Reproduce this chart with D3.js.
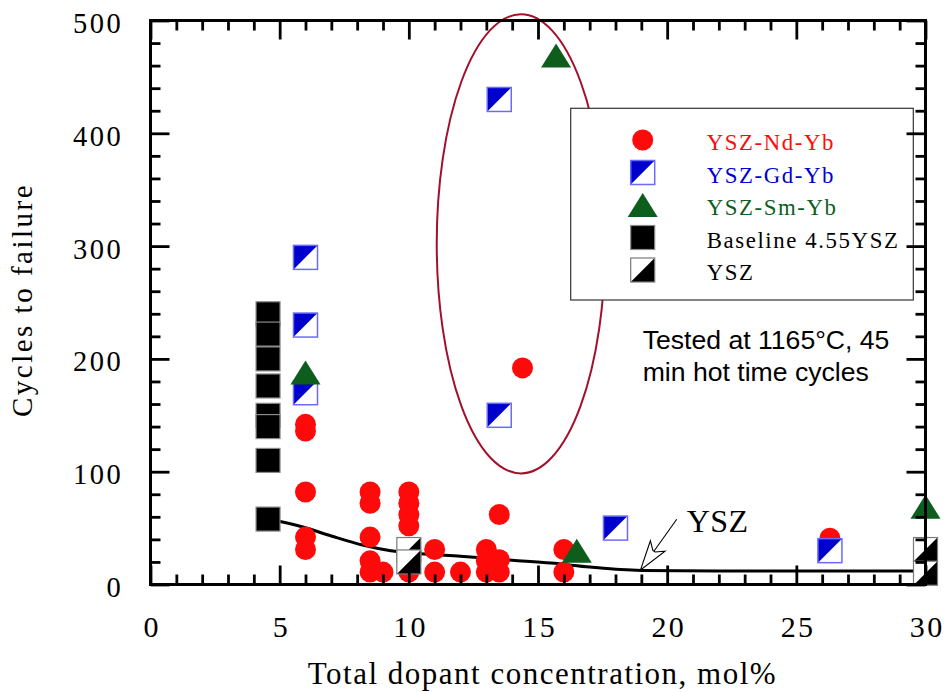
<!DOCTYPE html>
<html>
<head>
<meta charset="utf-8">
<script src="https://cdn.jsdelivr.net/npm/d3@7"></script>
<style>
  body { margin: 0; background: #fff; }
  svg { display: block; }
</style>
</head>
<body>
<svg id="chart" width="946" height="692"></svg>
<script>
// Cycles to failure vs. total dopant concentration (1165 °C, 45 min hot time)

// YSZ-Nd-Yb
const ndYbX = [6, 6, 6, 6, 6, 8.5, 8.5, 8.5, 8.5, 8.5, 9, 10, 10, 10, 10, 10, 11, 11, 12, 13, 13, 13, 13.5, 13.5, 13.5, 14.4, 16, 16, 26.3];
const ndYbY = [142, 136, 82, 42, 31, 82, 72, 42, 21, 11, 11, 82, 72, 62, 52, 11, 31, 11, 11, 31, 21, 11, 62, 22, 11, 192, 31, 11, 41];
// YSZ-Gd-Yb
const gdYbX = [6, 6, 6, 13.5, 13.5, 18, 26.3];
const gdYbY = [290, 230, 170, 430, 150, 50, 30];
// YSZ-Sm-Yb
const smYbX = [6, 15.7, 16.5, 30];
const smYbY = [188, 469, 30, 69];
// Baseline 4.55YSZ
const baseX = [4.55, 4.55, 4.55, 4.55, 4.55, 4.55, 4.55, 4.55];
const baseY = [240, 222, 200, 176, 150, 140, 110, 58];
// YSZ
const yszX = [10, 10, 30, 30];
const yszY = [31, 20, 31, 10];
// YSZ trend curve
const yszCurveX = [4.55, 5.9, 7, 8.2, 9.3, 10.4, 12, 14, 15.5, 17, 18.2, 19, 22, 26, 30];
const yszCurveY = [58, 51, 43, 35, 30, 27.5, 25, 21.5, 19, 15.5, 13.2, 12.5, 12, 12, 12];

// axis ticks
const xMajor = [0, 5, 10, 15, 20, 25, 30];
const xMinor = d3.range(1, 30).filter(v => v % 5 !== 0);
const yMajor = [0, 100, 200, 300, 400, 500];
const yMinor = d3.range(20, 500, 20).filter(v => v % 100 !== 0);

const legendLabels = ["YSZ-Nd-Yb", "YSZ-Gd-Yb", "YSZ-Sm-Yb", "Baseline 4.55YSZ", "YSZ"];
const legendKinds = ["nd", "gd", "sm", "base", "ysz"];

const RED = "#ff0a0a", BLUE = "#0000cc", BLUE_EDGE = "#6a6aff", GREEN = "#0d5e1c", ELLIPSE = "#a3102c";
const SERIF = "'Times New Roman', 'Liberation Serif', serif";
const SANS = "Arial, 'Liberation Sans', sans-serif";

const svg = d3.select("#chart");
const x = d3.scaleLinear().domain([0, 30]).range([150.5, 925.5]);
const y = d3.scaleLinear().domain([0, 500]).range([584.5, 20.5]);
const [x0, x1] = x.range();
const [y0, y1] = y.range();

// ---- marker drawing helpers ----
const SQ = 12;        // half side of squares
const CR = 10.5;      // circle radius
function drawCircle(g, cx, cy) {
  g.append("circle").attr("cx", cx).attr("cy", cy).attr("r", CR).attr("fill", RED);
}
function drawGd(g, cx, cy) {
  g.append("rect").attr("x", cx - SQ).attr("y", cy - SQ).attr("width", 2 * SQ).attr("height", 2 * SQ).attr("fill", "#fff");
  g.append("path").attr("d", `M${cx - SQ},${cy - SQ}H${cx + SQ}L${cx - SQ},${cy + SQ}Z`).attr("fill", BLUE);
  g.append("rect").attr("x", cx - SQ).attr("y", cy - SQ).attr("width", 2 * SQ).attr("height", 2 * SQ)
    .attr("fill", "none").attr("stroke", BLUE_EDGE).attr("stroke-width", 1.5);
}
function drawTri(g, cx, cy) {
  g.append("path").attr("d", `M${cx},${cy - 12}L${cx + 15},${cy + 12}L${cx - 15},${cy + 12}Z`).attr("fill", GREEN);
}
function drawBase(g, cx, cy) {
  g.append("rect").attr("x", cx - SQ).attr("y", cy - SQ).attr("width", 2 * SQ).attr("height", 2 * SQ)
    .attr("fill", "#000").attr("stroke", "#8a8a8a").attr("stroke-width", 1.2);
}
function drawYsz(g, cx, cy) {
  g.append("rect").attr("x", cx - SQ).attr("y", cy - SQ).attr("width", 2 * SQ).attr("height", 2 * SQ).attr("fill", "#fff");
  g.append("path").attr("d", `M${cx + SQ},${cy - SQ}V${cy + SQ}H${cx - SQ}Z`).attr("fill", "#000");
  g.append("rect").attr("x", cx - SQ).attr("y", cy - SQ).attr("width", 2 * SQ).attr("height", 2 * SQ)
    .attr("fill", "none").attr("stroke", "#7a7a7a").attr("stroke-width", 1.2);
}
const drawers = { nd: drawCircle, gd: drawGd, sm: drawTri, base: drawBase, ysz: drawYsz };

// ---- ellipse highlighting the Gd/Nd group near 13-15 mol% ----
const ell = { cx: 14.34, cy: 302, rx: 3.26, ry: 203.5 };
svg.append("ellipse")
  .attr("cx", x(ell.cx)).attr("cy", y(ell.cy))
  .attr("rx", x(ell.cx + ell.rx) - x(ell.cx)).attr("ry", y(ell.cy - ell.ry) - y(ell.cy))
  .attr("fill", "none").attr("stroke", ELLIPSE).attr("stroke-width", 2);

// ---- legend ----
const legend = svg.append("g");
legend.append("rect").attr("x", 570.7).attr("y", 108.3).attr("width", 342.6).attr("height", 191.7)
  .attr("fill", "#fff").attr("stroke", "#333").attr("stroke-width", 1.2);
const legendColors = { nd: RED, gd: BLUE, sm: GREEN, base: "#000", ysz: "#000" };
legendKinds.forEach((k, i) => {
  const cy = 140 + i * 32.5;
  drawers[k](legend, 642.7, cy);
  legend.append("text").attr("x", 706.7).attr("y", cy + 10)
    .attr("font-family", SERIF).attr("font-size", 22.8).attr("letter-spacing", 1.6)
    .attr("fill", legendColors[k]).text(legendLabels[i]);
});

// ---- YSZ trend curve ----
const line = d3.line().x(d => x(d[0])).y(d => y(d[1])).curve(d3.curveMonotoneX);
svg.append("path").datum(d3.zip(yszCurveX, yszCurveY)).attr("d", line)
  .attr("fill", "none").attr("stroke", "#000").attr("stroke-width", 3);

// ---- data markers ----
const marks = svg.append("g");
d3.zip(baseX, baseY).forEach(([a, b]) => drawBase(marks, x(a), y(b)));
d3.zip(ndYbX, ndYbY).forEach(([a, b]) => drawCircle(marks, x(a), y(b)));
d3.zip(gdYbX, gdYbY).forEach(([a, b]) => drawGd(marks, x(a), y(b)));
d3.zip(smYbX, smYbY).forEach(([a, b]) => drawTri(marks, x(a), y(b)));
d3.zip(yszX, yszY).forEach(([a, b]) => drawYsz(marks, x(a), y(b)));

// ---- frame and inward ticks on all four sides ----
function ticks(axis, values, len, transform) {
  svg.append("g").attr("transform", transform)
    .call(axis.tickValues(values).tickSize(-len).tickSizeOuter(0).tickFormat(""))
    .call(g => g.select(".domain").remove())
    .call(g => g.selectAll("line").attr("stroke", "#000").attr("stroke-width", 2.8));
}
ticks(d3.axisBottom(x), xMinor, 10, `translate(0,${y0})`);
ticks(d3.axisBottom(x), xMajor, 19, `translate(0,${y0})`);
ticks(d3.axisTop(x), xMinor, 10, `translate(0,${y1})`);
ticks(d3.axisTop(x), xMajor, 19, `translate(0,${y1})`);
ticks(d3.axisLeft(y), yMinor, 10, `translate(${x0},0)`);
ticks(d3.axisLeft(y), yMajor, 19, `translate(${x0},0)`);
ticks(d3.axisRight(y), yMinor, 10, `translate(${x1},0)`);
ticks(d3.axisRight(y), yMajor, 19, `translate(${x1},0)`);

svg.append("rect").attr("x", x0).attr("y", y1).attr("width", x1 - x0).attr("height", y0 - y1)
  .attr("fill", "none").attr("stroke", "#000").attr("stroke-width", 3);

// ---- tick labels ----
svg.append("g").attr("transform", `translate(0,${y0})`)
  .call(d3.axisBottom(x).tickValues(xMajor).tickSize(0).tickFormat(d3.format("d")))
  .call(g => g.select(".domain").remove())
  .call(g => g.selectAll("text").attr("y", 0).attr("dy", 52).attr("dx", 1.2)
    .attr("font-family", SERIF).attr("font-size", 30).attr("letter-spacing", 2.4).attr("fill", "#000"));

svg.append("g").attr("transform", `translate(${x0},0)`)
  .call(d3.axisLeft(y).tickValues(yMajor).tickSize(0).tickFormat(d3.format("d")))
  .call(g => g.select(".domain").remove())
  .call(g => g.selectAll("text").attr("x", -27.3).attr("dy", 12)
    .attr("font-family", SERIF).attr("font-size", 28.5).attr("letter-spacing", 2.5).attr("fill", "#000"));

// ---- axis titles ----
svg.append("text").attr("x", 542.5).attr("y", 684).attr("text-anchor", "middle")
  .attr("font-family", SERIF).attr("font-size", 31).attr("letter-spacing", 1.5)
  .text("Total dopant concentration, mol%");
svg.append("text").attr("transform", "translate(32,300) rotate(-90)").attr("text-anchor", "middle")
  .attr("font-family", SERIF).attr("font-size", 29).attr("letter-spacing", 2.5)
  .text("Cycles to failure");

// ---- test condition note ----
const note = svg.append("text").attr("font-family", SANS).attr("font-size", 26.6).attr("fill", "#000");
note.append("tspan").attr("x", 642.7).attr("y", 349.3).text("Tested at 1165°C, 45");
note.append("tspan").attr("x", 642.7).attr("y", 380.7).text("min hot time cycles");

// ---- YSZ curve callout with hollow arrow ----
const tip = [x(18.97), y(12.9)], tail = [x(20.37), y(57.8)];
const ux = (tail[0] - tip[0]), uy = (tail[1] - tip[1]);
const ul = Math.hypot(ux, uy);
const u = [ux / ul, uy / ul], p = [-u[1], u[0]];
const pt = (a, b) => [tip[0] + u[0] * a + p[0] * b, tip[1] + u[1] * a + p[1] * b];
const head = [pt(0, 0), pt(29.5, -9), pt(23, -1.3), pt(23, 1.3), pt(29.5, 9)];
svg.append("path").attr("d", "M" + head.map(d => d.join(",")).join("L") + "Z")
  .attr("fill", "#fff").attr("stroke", "#000").attr("stroke-width", 1.1);
const neck = pt(23, 0);
svg.append("line").attr("x1", neck[0]).attr("y1", neck[1]).attr("x2", tail[0]).attr("y2", tail[1])
  .attr("stroke", "#000").attr("stroke-width", 1.1);
svg.append("text").attr("x", 686.7).attr("y", 531.7)
  .attr("font-family", SERIF).attr("font-size", 32).attr("letter-spacing", 0.5).text("YSZ");
</script>
</body>
</html>
